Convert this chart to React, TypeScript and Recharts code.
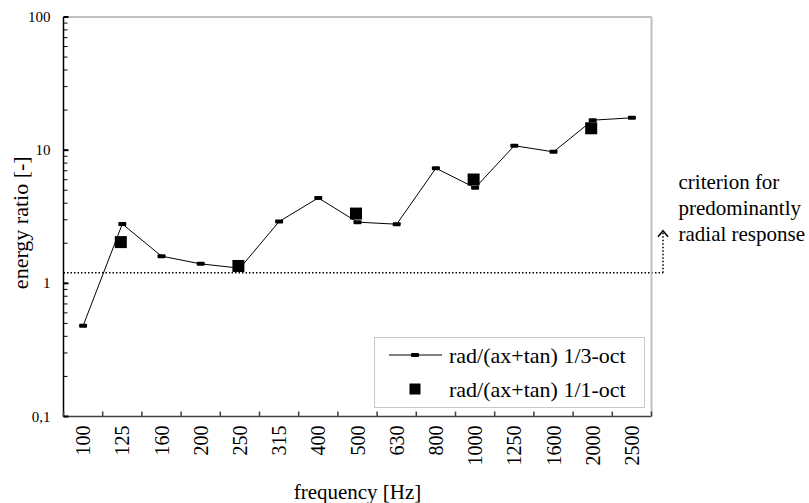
import React from 'react';
import { ComposedChart, Line, XAxis, YAxis, ReferenceLine, Legend } from 'recharts';

// third-octave bands on the x axis
const frequencies = ['100', '125', '160', '200', '250', '315', '400', '500', '630', '800', '1000', '1250', '1600', '2000', '2500'];

// rad/(ax+tan), 1/3-octave bands
const ratioThirdOct = [0.48, 2.79, 1.6, 1.4, 1.3, 2.91, 4.38, 2.88, 2.78, 7.32, 5.21, 10.8, 9.71, 16.8, 17.5];

// rad/(ax+tan), full octave bands (only at octave centres)
const ratioOneOct = [null, 2.04, null, null, 1.35, null, null, 3.34, null, null, 6.02, null, null, 14.6, null];

const seriesNames = ['rad/(ax+tan) 1/3-oct', 'rad/(ax+tan) 1/1-oct'];

const criterion = 1.2;
const criterionText = ['criterion for', 'predominantly', 'radial response'];

const yTicks = [
  0.1, 0.2, 0.3, 0.4, 0.5, 0.6, 0.7, 0.8, 0.9,
  1, 2, 3, 4, 5, 6, 7, 8, 9,
  10, 20, 30, 40, 50, 60, 70, 80, 90,
  100,
];
const yTickLabels: Record<string, string> = { '0.1': '0,1', '1': '1', '10': '10', '100': '100' };

const W = 809;
const H = 503;
const plotLeft = 63.5;
const plotTop = 17;
const plotRight = 651.5;
const plotBottom = 416.5;
const band = (plotRight - plotLeft) / frequencies.length;
const font = "'Liberation Serif', 'DejaVu Serif', serif";

const data = frequencies.map((f, i) => ({
  freq: f,
  third: ratioThirdOct[i],
  oct: ratioOneOct[i],
}));

const txt = (size: number): React.CSSProperties => ({ fontFamily: font, fontSize: size });

const YTick = (props: any) => {
  const { x, y, payload } = props;
  const label = yTickLabels[String(payload.value)];
  const major = label !== undefined;
  return (
    <g>
      <line x1={x} x2={x + (major ? 5 : 4)} y1={y} y2={y} stroke="#000" strokeWidth={major ? 2 : 1} />
      {major && (
        <text x={x - 13} y={y} textAnchor="end" dominantBaseline="central" style={txt(15)} fill="#000">
          {label}
        </text>
      )}
    </g>
  );
};

const XTick = (props: any) => {
  const { x, y, payload, index } = props;
  const left = x - band / 2;
  const last = index === frequencies.length - 1;
  return (
    <g>
      <line x1={left} x2={left} y1={y} y2={y - 5} stroke="#404040" strokeWidth={1.5} />
      {last && <line x1={left + band} x2={left + band} y1={y} y2={plotTop} stroke="#c0c0c0" strokeWidth={2} />}
      {last && <line x1={left + band} x2={left + band} y1={y} y2={y - 5} stroke="#404040" strokeWidth={1.5} />}
      <text
        transform={`translate(${x},${y + 9}) rotate(-90)`}
        textAnchor="end"
        dominantBaseline="central"
        style={txt(20)}
        fill="#000"
      >
        {payload.value}
      </text>
    </g>
  );
};

const ThirdDot = (props: any) => {
  const { cx, cy, index } = props;
  if (cx == null || cy == null) return <g key={index} />;
  return <rect key={index} x={cx - 4} y={cy - 2} width={8} height={4} rx={1} fill="#000" />;
};

const OctDot = (props: any) => {
  const { cx, cy, index } = props;
  if (cx == null || cy == null) return <g key={index} />;
  return <rect key={index} x={cx - 7.5} y={cy - 6} width={12} height={12} fill="#000" />;
};

const CriterionShape = (props: any) => {
  const x1 = props.x1 ?? props.points?.[0]?.x;
  const x2 = props.x2 ?? props.points?.[1]?.x;
  const y = props.y1 ?? props.points?.[0]?.y;
  const ax = x2 + 11.5;
  return (
    <g>
      <line x1={x1} x2={ax} y1={y} y2={y} stroke="#000" strokeWidth={1.5} strokeDasharray="1.5 2" />
      <line x1={ax} x2={ax} y1={y} y2={y - 40} stroke="#000" strokeWidth={1.5} strokeDasharray="1.5 2" />
      <polyline points={`${ax - 5},${y - 36} ${ax},${y - 42} ${ax + 5},${y - 36}`} fill="none" stroke="#000" strokeWidth={1.5} />
      {criterionText.map((t, i) => (
        <text key={t} x={x2 + 27} y={y - 91 + i * 26} dominantBaseline="central" style={txt(21)} fill="#000">
          {t}
        </text>
      ))}
    </g>
  );
};

const LegendBox = () => (
  <svg width={271} height={71} style={{ display: 'block' }}>
    <rect x={0.5} y={0.5} width={270} height={70} fill="#fff" stroke="#c8c8c8" />
    <line x1={15} x2={68} y1={18} y2={18} stroke="#000" strokeWidth={1} />
    <rect x={37} y={16} width={8} height={4} rx={1} fill="#000" />
    <rect x={35.5} y={46.5} width={11} height={11} fill="#000" />
    {seriesNames.map((n, i) => (
      <text key={n} x={75} y={18 + i * 34} dominantBaseline="central" style={txt(22)} fill="#000">
        {n}
      </text>
    ))}
  </svg>
);

export default function App() {
  return (
    <div style={{ position: 'absolute', left: 0, top: 0, background: '#fff', fontFamily: font }}>
      <ComposedChart
        width={W}
        height={H}
        data={data}
        margin={{ top: plotTop, right: W - plotRight, bottom: 0, left: 0 }}
      >
        <XAxis
          dataKey="freq"
          scale="band"
          height={H - plotBottom}
          interval={0}
          tickSize={0}
          tickMargin={0}
          tickLine={false}
          tick={<XTick />}
          axisLine={{ stroke: '#404040', strokeWidth: 1.5 }}
          label={{
            content: (p: any) => (
              <text x={p.viewBox.x + p.viewBox.width / 2} y={492} textAnchor="middle" dominantBaseline="central" style={txt(21)} fill="#000">
                frequency [Hz]
              </text>
            ),
          }}
        />
        <YAxis
          scale="log"
          type="number"
          domain={[0.1, 100]}
          allowDataOverflow
          ticks={yTicks}
          interval={0}
          width={plotLeft}
          tickSize={0}
          tickMargin={0}
          tickLine={false}
          tick={<YTick />}
          axisLine={{ stroke: '#000', strokeWidth: 1.5 }}
          label={{
            content: (p: any) => (
              <text
                transform={`translate(20,${p.viewBox.y + p.viewBox.height / 2 + 6}) rotate(-90)`}
                textAnchor="middle"
                dominantBaseline="central"
                style={txt(22)}
                fill="#000"
              >
                energy ratio [-]
              </text>
            ),
          }}
        />
        <ReferenceLine y={100} stroke="#c0c0c0" strokeWidth={2} />
        <ReferenceLine y={criterion} ifOverflow="visible" shape={<CriterionShape />} />
        <Line
          dataKey="third"
          name={seriesNames[0]}
          stroke="#000"
          strokeWidth={1}
          dot={<ThirdDot />}
          activeDot={false}
          isAnimationActive={false}
        />
        <Line
          dataKey="oct"
          name={seriesNames[1]}
          stroke="none"
          dot={<OctDot />}
          activeDot={false}
          isAnimationActive={false}
        />
        <Legend
          layout="horizontal"
          verticalAlign="middle"
          align="center"
          wrapperStyle={{ left: 374, top: 337, width: 271, height: 71 }}
          content={<LegendBox />}
        />
      </ComposedChart>
    </div>
  );
}
